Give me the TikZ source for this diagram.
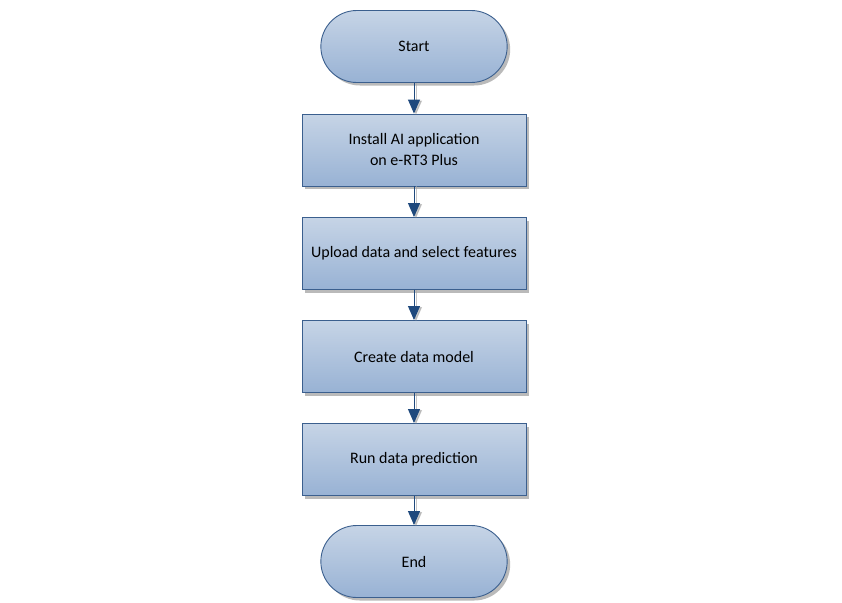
\documentclass[tikz,border=0pt]{standalone}
\usepackage{fontspec}
\setmainfont{Carlito}
\usetikzlibrary{arrows.meta,shadows,shapes.misc}
\definecolor{edge}{HTML}{3B5F8E}
\definecolor{topc}{HTML}{C6D4E6}
\definecolor{botc}{HTML}{98B2D4}
\definecolor{arr}{HTML}{1F497D}
\tikzset{
  base/.style={draw=edge, line width=0.9pt, top color=topc, bottom color=botc,
    font=\fontsize{16}{21}\selectfont, text=black, align=center,
    drop shadow={shadow xshift=3pt, shadow yshift=-3pt, fill=black!45, opacity=0.6}},
  term/.style={base, rounded rectangle, minimum width=193pt, minimum height=72pt},
  stepbox/.style={base, rectangle, minimum width=224pt, minimum height=72pt},
  conn/.style={draw=arr, line width=1pt, -{Triangle[length=14pt,width=12pt]}}
}
\begin{document}
\begin{tikzpicture}[x=1pt,y=-1pt]
\useasboundingbox (0,0) rectangle (842,602);
\node[term] (start) at (414,46.5) {Start};
\node[stepbox] (s1) at (414,150) {Install AI application\\on e-RT3 Plus};
\node[stepbox] (s2) at (414,253.5) {Upload data and select features};
\node[stepbox] (s3) at (414,356.5) {Create data model};
\node[stepbox] (s4) at (414,459.5) {Run data prediction};
\node[term] (end) at (414,561.5) {End};
\foreach \a/\b in {start/s1,s1/s2,s2/s3,s3/s4,s4/end}{
  \draw[draw=black!35, line width=1pt, -{Triangle[length=14pt,width=12pt]}, fill=black!35, opacity=0.6] ([xshift=2pt]\a.south) -- ([xshift=2pt,yshift=-1pt]\b.north);
  \draw[conn, fill=arr] (\a.south) -- (\b.north);
}
\end{tikzpicture}
\end{document}
